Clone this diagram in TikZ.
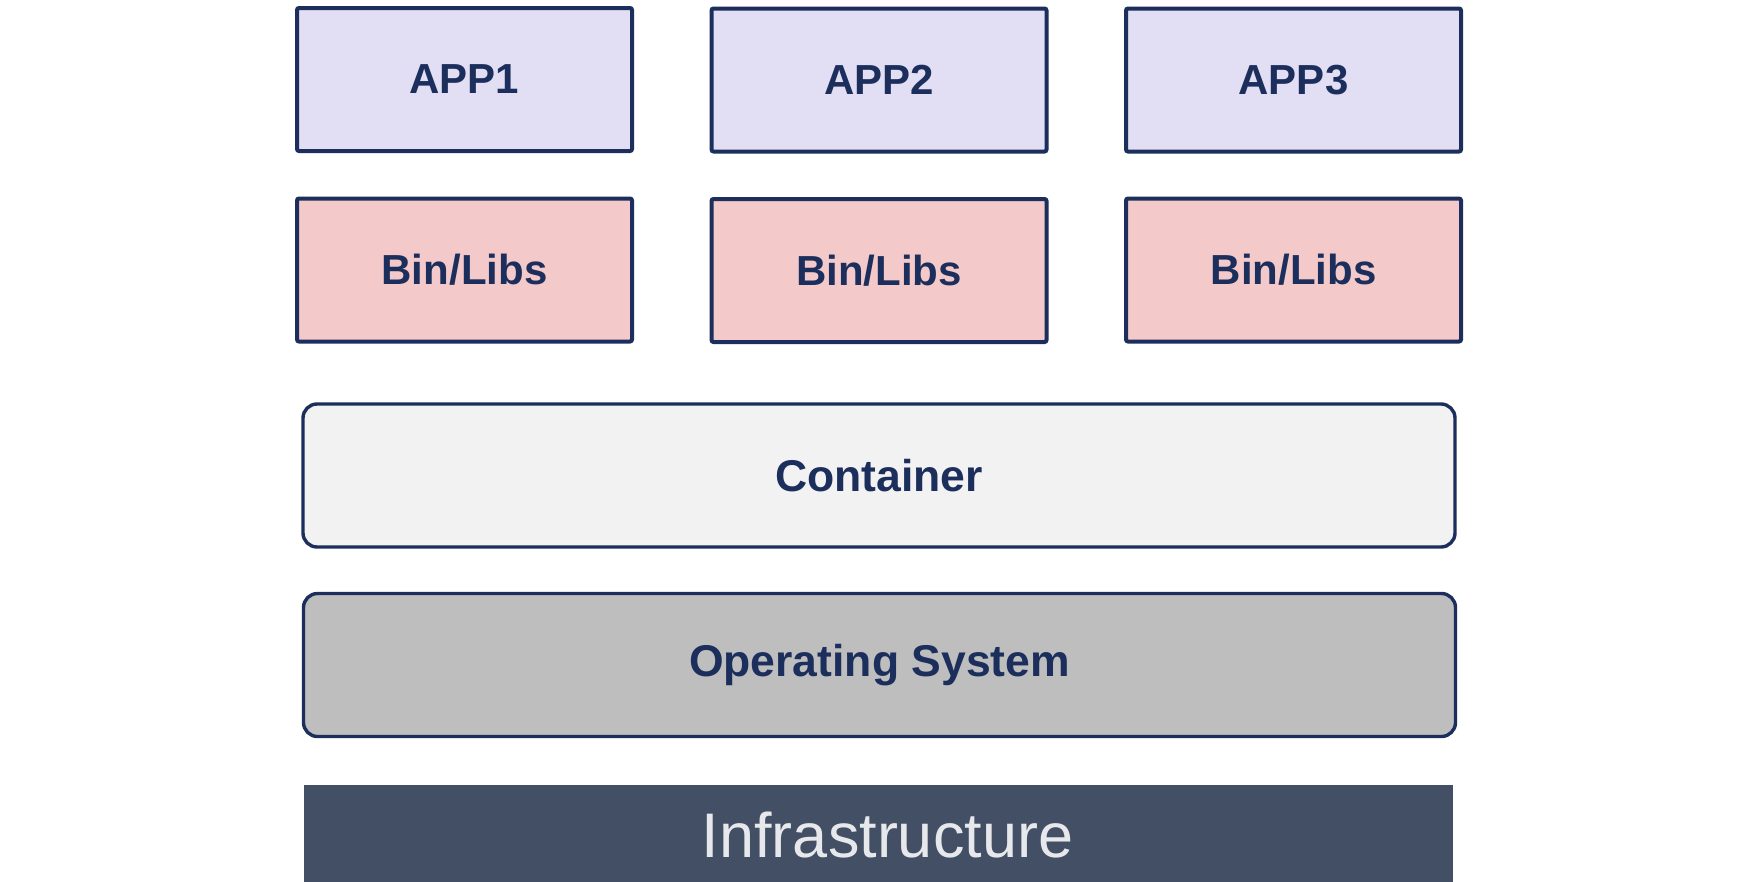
\documentclass[tikz,border=0pt]{standalone}
\usepackage{fontspec}
\setmainfont{Liberation Sans}
\usepackage{tikz}
\definecolor{navy}{HTML}{1C2E5C}
\definecolor{applav}{HTML}{E2DEF3}
\definecolor{binpink}{HTML}{F3C9CA}
\definecolor{contgray}{HTML}{F2F2F2}
\definecolor{osgray}{HTML}{BEBEBE}
\definecolor{infraslate}{HTML}{434F65}
\definecolor{infratext}{HTML}{E6E8EC}
\begin{document}
\begin{tikzpicture}[x=1pt,y=-1pt,
  layer/.style={draw=navy, text=navy, inner sep=0pt,
    font=\fontsize{42}{50}\selectfont\bfseries},
  appbox/.style={layer, fill=applav, line width=4pt, rounded corners=2pt,
    minimum width=335pt, minimum height=143pt},
  binbox/.style={layer, fill=binpink, line width=4pt, rounded corners=2pt,
    minimum width=335pt, minimum height=143pt},
  wide/.style={layer, line width=3.4pt, rounded corners=14pt,
    minimum width=1152pt, minimum height=143pt,
    font=\fontsize{44.5}{52}\selectfont\bfseries}]
\useasboundingbox (0,0) rectangle (1740,881);
% applications
\node [appbox] (app1) at (464.5,79.5) {APP1};
\node [appbox] (app2) at (879,80) {APP2};
\node [appbox] (app3) at (1293.5,80) {APP3};
% binaries and libraries
\node [binbox] (bin1) at (464.5,270) {Bin/Libs};
\node [binbox] (bin2) at (879,270.5) {Bin/Libs};
\node [binbox] (bin3) at (1293.5,270) {Bin/Libs};
% container and operating system
\node [wide, fill=contgray] (container) at (879,475.5) {Container};
\node [wide, fill=osgray] (os) at (879.5,665) {Operating System};
% infrastructure
\node [fill=infraslate, text=infratext, inner sep=0pt,
  minimum width=1149pt, minimum height=100pt,
  font=\fontsize{63}{70}\selectfont] (infra) at (878.5,835) {\hspace*{18pt}Infrastructure};
\end{tikzpicture}
\end{document}
